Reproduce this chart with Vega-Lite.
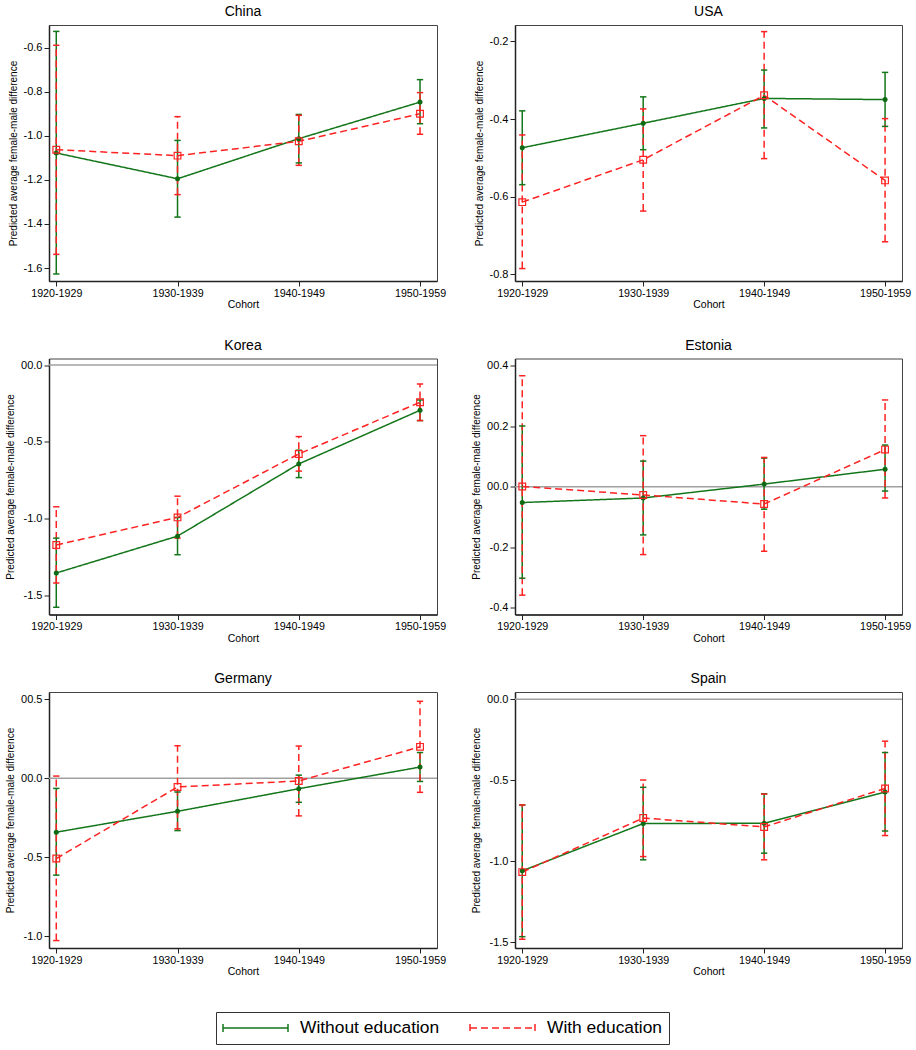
{
"$schema": "https://vega.github.io/schema/vega-lite/v6.json",
"background": "white",
"padding": {"left": 5, "top": 4, "right": 0, "bottom": 0},
"columns": 2,
"spacing": {"row": 26.5, "column": 24},
"data": {"values": [
{"c":"China","cohort":"1920-1929","s":"Without education","est":-1.078,"lo":-1.627,"hi":-0.526},
{"c":"China","cohort":"1930-1939","s":"Without education","est":-1.195,"lo":-1.369,"hi":-1.021},
{"c":"China","cohort":"1940-1949","s":"Without education","est":-1.013,"lo":-1.123,"hi":-0.903},
{"c":"China","cohort":"1950-1959","s":"Without education","est":-0.847,"lo":-0.945,"hi":-0.745},
{"c":"China","cohort":"1920-1929","s":"With education","est":-1.063,"lo":-1.538,"hi":-0.589},
{"c":"China","cohort":"1930-1939","s":"With education","est":-1.090,"lo":-1.267,"hi":-0.913},
{"c":"China","cohort":"1940-1949","s":"With education","est":-1.025,"lo":-1.134,"hi":-0.907},
{"c":"China","cohort":"1950-1959","s":"With education","est":-0.900,"lo":-0.993,"hi":-0.804},
{"c":"USA","cohort":"1920-1929","s":"Without education","est":-0.474,"lo":-0.569,"hi":-0.379},
{"c":"USA","cohort":"1930-1939","s":"Without education","est":-0.411,"lo":-0.479,"hi":-0.343},
{"c":"USA","cohort":"1940-1949","s":"Without education","est":-0.347,"lo":-0.423,"hi":-0.274},
{"c":"USA","cohort":"1950-1959","s":"Without education","est":-0.350,"lo":-0.419,"hi":-0.280},
{"c":"USA","cohort":"1920-1929","s":"With education","est":-0.614,"lo":-0.785,"hi":-0.441},
{"c":"USA","cohort":"1930-1939","s":"With education","est":-0.505,"lo":-0.637,"hi":-0.374},
{"c":"USA","cohort":"1940-1949","s":"With education","est":-0.339,"lo":-0.502,"hi":-0.175},
{"c":"USA","cohort":"1950-1959","s":"With education","est":-0.558,"lo":-0.716,"hi":-0.399},
{"c":"Korea","cohort":"1920-1929","s":"Without education","est":-1.353,"lo":-1.576,"hi":-1.126},
{"c":"Korea","cohort":"1930-1939","s":"Without education","est":-1.113,"lo":-1.234,"hi":-0.991},
{"c":"Korea","cohort":"1940-1949","s":"Without education","est":-0.643,"lo":-0.732,"hi":-0.554},
{"c":"Korea","cohort":"1950-1959","s":"Without education","est":-0.294,"lo":-0.361,"hi":-0.227},
{"c":"Korea","cohort":"1920-1929","s":"With education","est":-1.171,"lo":-1.418,"hi":-0.922},
{"c":"Korea","cohort":"1930-1939","s":"With education","est":-0.991,"lo":-1.126,"hi":-0.853},
{"c":"Korea","cohort":"1940-1949","s":"With education","est":-0.578,"lo":-0.690,"hi":-0.465},
{"c":"Korea","cohort":"1950-1959","s":"With education","est":-0.242,"lo":-0.361,"hi":-0.123},
{"c":"Estonia","cohort":"1920-1929","s":"Without education","est":-0.052,"lo":-0.302,"hi":0.201},
{"c":"Estonia","cohort":"1930-1939","s":"Without education","est":-0.037,"lo":-0.159,"hi":0.085},
{"c":"Estonia","cohort":"1940-1949","s":"Without education","est":0.009,"lo":-0.074,"hi":0.095},
{"c":"Estonia","cohort":"1950-1959","s":"Without education","est":0.058,"lo":-0.014,"hi":0.138},
{"c":"Estonia","cohort":"1920-1929","s":"With education","est":0.001,"lo":-0.358,"hi":0.367},
{"c":"Estonia","cohort":"1930-1939","s":"With education","est":-0.027,"lo":-0.224,"hi":0.169},
{"c":"Estonia","cohort":"1940-1949","s":"With education","est":-0.057,"lo":-0.213,"hi":0.097},
{"c":"Estonia","cohort":"1950-1959","s":"With education","est":0.123,"lo":-0.037,"hi":0.287},
{"c":"Germany","cohort":"1920-1929","s":"Without education","est":-0.341,"lo":-0.613,"hi":-0.064},
{"c":"Germany","cohort":"1930-1939","s":"Without education","est":-0.209,"lo":-0.331,"hi":-0.087},
{"c":"Germany","cohort":"1940-1949","s":"Without education","est":-0.066,"lo":-0.152,"hi":0.020},
{"c":"Germany","cohort":"1950-1959","s":"Without education","est":0.071,"lo":-0.020,"hi":0.163},
{"c":"Germany","cohort":"1920-1929","s":"With education","est":-0.508,"lo":-1.027,"hi":0.014},
{"c":"Germany","cohort":"1930-1939","s":"With education","est":-0.055,"lo":-0.320,"hi":0.206},
{"c":"Germany","cohort":"1940-1949","s":"With education","est":-0.017,"lo":-0.238,"hi":0.204},
{"c":"Germany","cohort":"1950-1959","s":"With education","est":0.199,"lo":-0.089,"hi":0.487},
{"c":"Spain","cohort":"1920-1929","s":"Without education","est":-1.060,"lo":-1.467,"hi":-0.653},
{"c":"Spain","cohort":"1930-1939","s":"Without education","est":-0.768,"lo":-0.992,"hi":-0.544},
{"c":"Spain","cohort":"1940-1949","s":"Without education","est":-0.766,"lo":-0.951,"hi":-0.584},
{"c":"Spain","cohort":"1950-1959","s":"Without education","est":-0.573,"lo":-0.814,"hi":-0.329},
{"c":"Spain","cohort":"1920-1929","s":"With education","est":-1.068,"lo":-1.483,"hi":-0.653},
{"c":"Spain","cohort":"1930-1939","s":"With education","est":-0.734,"lo":-0.972,"hi":-0.499},
{"c":"Spain","cohort":"1940-1949","s":"With education","est":-0.789,"lo":-0.992,"hi":-0.586},
{"c":"Spain","cohort":"1950-1959","s":"With education","est":-0.551,"lo":-0.842,"hi":-0.259}
]},
"concat": [
{
 "title": "China", "width": 388, "height": 256,
 "transform": [{"filter": "datum.c === 'China'"}],
 "encoding": {"x": {"field": "cohort", "type": "ordinal", "title": "Cohort", "scale": {"type": "point", "padding": 0.1, "align": 0.3}, "axis": {"labelAngle": 0}}},
 "layer": [
  {"mark": {"type": "rule", "strokeWidth": 1.5}, "encoding": {"y": {"field": "lo", "type": "quantitative", "title": "Predicted average female-male difference", "scale": {"domain": [-1.659, -0.497], "nice": false, "zero": false}, "axis": {"values": [-0.6, -0.8, -1.0, -1.2, -1.4, -1.6]}}, "y2": {"field": "hi"}, "color": {"field": "s", "type": "nominal", "title": null, "scale": {"domain": ["Without education", "With education"], "range": ["#13761a", "#ff2222"]}}, "strokeDash": {"field": "s", "type": "nominal", "title": null, "scale": {"domain": ["Without education", "With education"], "range": [[1, 0], [7, 4]]}}}},
  {"mark": {"type": "point", "shape": "stroke", "size": 40, "strokeWidth": 1.5, "filled": false, "opacity": 1}, "encoding": {"y": {"field": "lo", "type": "quantitative", "title": "Predicted average female-male difference"}, "color": {"field": "s", "type": "nominal", "title": null}}},
  {"mark": {"type": "point", "shape": "stroke", "size": 40, "strokeWidth": 1.5, "filled": false, "opacity": 1}, "encoding": {"y": {"field": "hi", "type": "quantitative", "title": "Predicted average female-male difference"}, "color": {"field": "s", "type": "nominal", "title": null}}},
  {"mark": {"type": "line", "strokeWidth": 1.5}, "encoding": {"y": {"field": "est", "type": "quantitative", "title": "Predicted average female-male difference"}, "color": {"field": "s", "type": "nominal", "title": null}, "strokeDash": {"field": "s", "type": "nominal", "title": null}}},
  {"transform": [{"filter": "datum.s === 'Without education'"}], "mark": {"type": "point", "shape": "circle", "filled": true, "size": 25, "color": "#0f6a14", "opacity": 1}, "encoding": {"y": {"field": "est", "type": "quantitative", "title": "Predicted average female-male difference"}}},
  {"transform": [{"filter": "datum.s === 'With education'"}], "mark": {"type": "point", "shape": "square", "filled": false, "size": 45, "strokeWidth": 1.2, "color": "#ff2222", "opacity": 1}, "encoding": {"y": {"field": "est", "type": "quantitative", "title": "Predicted average female-male difference"}}}
 ]
},
{
 "title": "USA", "width": 387, "height": 256,
 "transform": [{"filter": "datum.c === 'USA'"}],
 "encoding": {"x": {"field": "cohort", "type": "ordinal", "title": "Cohort", "scale": {"type": "point", "padding": 0.1, "align": 0.3}, "axis": {"labelAngle": 0}}},
 "layer": [
  {"mark": {"type": "rule", "strokeWidth": 1.5}, "encoding": {"y": {"field": "lo", "type": "quantitative", "title": "Predicted average female-male difference", "scale": {"domain": [-0.817, -0.158], "nice": false, "zero": false}, "axis": {"values": [-0.2, -0.4, -0.6, -0.8]}}, "y2": {"field": "hi"}, "color": {"field": "s", "type": "nominal", "title": null, "scale": {"domain": ["Without education", "With education"], "range": ["#13761a", "#ff2222"]}}, "strokeDash": {"field": "s", "type": "nominal", "title": null, "scale": {"domain": ["Without education", "With education"], "range": [[1, 0], [7, 4]]}}}},
  {"mark": {"type": "point", "shape": "stroke", "size": 40, "strokeWidth": 1.5, "filled": false, "opacity": 1}, "encoding": {"y": {"field": "lo", "type": "quantitative", "title": "Predicted average female-male difference"}, "color": {"field": "s", "type": "nominal", "title": null}}},
  {"mark": {"type": "point", "shape": "stroke", "size": 40, "strokeWidth": 1.5, "filled": false, "opacity": 1}, "encoding": {"y": {"field": "hi", "type": "quantitative", "title": "Predicted average female-male difference"}, "color": {"field": "s", "type": "nominal", "title": null}}},
  {"mark": {"type": "line", "strokeWidth": 1.5}, "encoding": {"y": {"field": "est", "type": "quantitative", "title": "Predicted average female-male difference"}, "color": {"field": "s", "type": "nominal", "title": null}, "strokeDash": {"field": "s", "type": "nominal", "title": null}}},
  {"transform": [{"filter": "datum.s === 'Without education'"}], "mark": {"type": "point", "shape": "circle", "filled": true, "size": 25, "color": "#0f6a14", "opacity": 1}, "encoding": {"y": {"field": "est", "type": "quantitative", "title": "Predicted average female-male difference"}}},
  {"transform": [{"filter": "datum.s === 'With education'"}], "mark": {"type": "point", "shape": "square", "filled": false, "size": 45, "strokeWidth": 1.2, "color": "#ff2222", "opacity": 1}, "encoding": {"y": {"field": "est", "type": "quantitative", "title": "Predicted average female-male difference"}}}
 ]
},
{
 "title": "Korea", "width": 388, "height": 256,
 "transform": [{"filter": "datum.c === 'Korea'"}],
 "encoding": {"x": {"field": "cohort", "type": "ordinal", "title": "Cohort", "scale": {"type": "point", "padding": 0.1, "align": 0.3}, "axis": {"labelAngle": 0}}},
 "layer": [
  {"data": {"values": [{"c": "Korea", "ref": 0}]}, "mark": {"type": "rule", "color": "#a0a0a0", "strokeWidth": 1.5}, "encoding": {"x": {"value": 0}, "x2": {"value": "width"}, "y": {"field": "ref", "type": "quantitative", "title": "Predicted average female-male difference"}}},
  {"mark": {"type": "rule", "strokeWidth": 1.5}, "encoding": {"y": {"field": "lo", "type": "quantitative", "title": "Predicted average female-male difference", "scale": {"domain": [-1.623, 0.043], "nice": false, "zero": false}, "axis": {"values": [0, -0.5, -1.0, -1.5]}}, "y2": {"field": "hi"}, "color": {"field": "s", "type": "nominal", "title": null, "scale": {"domain": ["Without education", "With education"], "range": ["#13761a", "#ff2222"]}}, "strokeDash": {"field": "s", "type": "nominal", "title": null, "scale": {"domain": ["Without education", "With education"], "range": [[1, 0], [7, 4]]}}}},
  {"mark": {"type": "point", "shape": "stroke", "size": 40, "strokeWidth": 1.5, "filled": false, "opacity": 1}, "encoding": {"y": {"field": "lo", "type": "quantitative", "title": "Predicted average female-male difference"}, "color": {"field": "s", "type": "nominal", "title": null}}},
  {"mark": {"type": "point", "shape": "stroke", "size": 40, "strokeWidth": 1.5, "filled": false, "opacity": 1}, "encoding": {"y": {"field": "hi", "type": "quantitative", "title": "Predicted average female-male difference"}, "color": {"field": "s", "type": "nominal", "title": null}}},
  {"mark": {"type": "line", "strokeWidth": 1.5}, "encoding": {"y": {"field": "est", "type": "quantitative", "title": "Predicted average female-male difference"}, "color": {"field": "s", "type": "nominal", "title": null}, "strokeDash": {"field": "s", "type": "nominal", "title": null}}},
  {"transform": [{"filter": "datum.s === 'Without education'"}], "mark": {"type": "point", "shape": "circle", "filled": true, "size": 25, "color": "#0f6a14", "opacity": 1}, "encoding": {"y": {"field": "est", "type": "quantitative", "title": "Predicted average female-male difference"}}},
  {"transform": [{"filter": "datum.s === 'With education'"}], "mark": {"type": "point", "shape": "square", "filled": false, "size": 45, "strokeWidth": 1.2, "color": "#ff2222", "opacity": 1}, "encoding": {"y": {"field": "est", "type": "quantitative", "title": "Predicted average female-male difference"}}}
 ]
},
{
 "title": "Estonia", "width": 387, "height": 256,
 "transform": [{"filter": "datum.c === 'Estonia'"}],
 "encoding": {"x": {"field": "cohort", "type": "ordinal", "title": "Cohort", "scale": {"type": "point", "padding": 0.1, "align": 0.3}, "axis": {"labelAngle": 0}}},
 "layer": [
  {"data": {"values": [{"c": "Estonia", "ref": 0}]}, "mark": {"type": "rule", "color": "#a0a0a0", "strokeWidth": 1.5}, "encoding": {"x": {"value": 0}, "x2": {"value": "width"}, "y": {"field": "ref", "type": "quantitative", "title": "Predicted average female-male difference"}}},
  {"mark": {"type": "rule", "strokeWidth": 1.5}, "encoding": {"y": {"field": "lo", "type": "quantitative", "title": "Predicted average female-male difference", "scale": {"domain": [-0.422, 0.424], "nice": false, "zero": false}, "axis": {"values": [0.4, 0.2, 0, -0.2, -0.4]}}, "y2": {"field": "hi"}, "color": {"field": "s", "type": "nominal", "title": null, "scale": {"domain": ["Without education", "With education"], "range": ["#13761a", "#ff2222"]}}, "strokeDash": {"field": "s", "type": "nominal", "title": null, "scale": {"domain": ["Without education", "With education"], "range": [[1, 0], [7, 4]]}}}},
  {"mark": {"type": "point", "shape": "stroke", "size": 40, "strokeWidth": 1.5, "filled": false, "opacity": 1}, "encoding": {"y": {"field": "lo", "type": "quantitative", "title": "Predicted average female-male difference"}, "color": {"field": "s", "type": "nominal", "title": null}}},
  {"mark": {"type": "point", "shape": "stroke", "size": 40, "strokeWidth": 1.5, "filled": false, "opacity": 1}, "encoding": {"y": {"field": "hi", "type": "quantitative", "title": "Predicted average female-male difference"}, "color": {"field": "s", "type": "nominal", "title": null}}},
  {"mark": {"type": "line", "strokeWidth": 1.5}, "encoding": {"y": {"field": "est", "type": "quantitative", "title": "Predicted average female-male difference"}, "color": {"field": "s", "type": "nominal", "title": null}, "strokeDash": {"field": "s", "type": "nominal", "title": null}}},
  {"transform": [{"filter": "datum.s === 'Without education'"}], "mark": {"type": "point", "shape": "circle", "filled": true, "size": 25, "color": "#0f6a14", "opacity": 1}, "encoding": {"y": {"field": "est", "type": "quantitative", "title": "Predicted average female-male difference"}}},
  {"transform": [{"filter": "datum.s === 'With education'"}], "mark": {"type": "point", "shape": "square", "filled": false, "size": 45, "strokeWidth": 1.2, "color": "#ff2222", "opacity": 1}, "encoding": {"y": {"field": "est", "type": "quantitative", "title": "Predicted average female-male difference"}}}
 ]
},
{
 "title": "Germany", "width": 388, "height": 256,
 "transform": [{"filter": "datum.c === 'Germany'"}],
 "encoding": {"x": {"field": "cohort", "type": "ordinal", "title": "Cohort", "scale": {"type": "point", "padding": 0.1, "align": 0.3}, "axis": {"labelAngle": 0}}},
 "layer": [
  {"data": {"values": [{"c": "Germany", "ref": 0}]}, "mark": {"type": "rule", "color": "#a0a0a0", "strokeWidth": 1.5}, "encoding": {"x": {"value": 0}, "x2": {"value": "width"}, "y": {"field": "ref", "type": "quantitative", "title": "Predicted average female-male difference"}}},
  {"mark": {"type": "rule", "strokeWidth": 1.5}, "encoding": {"y": {"field": "lo", "type": "quantitative", "title": "Predicted average female-male difference", "scale": {"domain": [-1.074, 0.546], "nice": false, "zero": false}, "axis": {"values": [0.5, 0, -0.5, -1.0]}}, "y2": {"field": "hi"}, "color": {"field": "s", "type": "nominal", "title": null, "scale": {"domain": ["Without education", "With education"], "range": ["#13761a", "#ff2222"]}}, "strokeDash": {"field": "s", "type": "nominal", "title": null, "scale": {"domain": ["Without education", "With education"], "range": [[1, 0], [7, 4]]}}}},
  {"mark": {"type": "point", "shape": "stroke", "size": 40, "strokeWidth": 1.5, "filled": false, "opacity": 1}, "encoding": {"y": {"field": "lo", "type": "quantitative", "title": "Predicted average female-male difference"}, "color": {"field": "s", "type": "nominal", "title": null}}},
  {"mark": {"type": "point", "shape": "stroke", "size": 40, "strokeWidth": 1.5, "filled": false, "opacity": 1}, "encoding": {"y": {"field": "hi", "type": "quantitative", "title": "Predicted average female-male difference"}, "color": {"field": "s", "type": "nominal", "title": null}}},
  {"mark": {"type": "line", "strokeWidth": 1.5}, "encoding": {"y": {"field": "est", "type": "quantitative", "title": "Predicted average female-male difference"}, "color": {"field": "s", "type": "nominal", "title": null}, "strokeDash": {"field": "s", "type": "nominal", "title": null}}},
  {"transform": [{"filter": "datum.s === 'Without education'"}], "mark": {"type": "point", "shape": "circle", "filled": true, "size": 25, "color": "#0f6a14", "opacity": 1}, "encoding": {"y": {"field": "est", "type": "quantitative", "title": "Predicted average female-male difference"}}},
  {"transform": [{"filter": "datum.s === 'With education'"}], "mark": {"type": "point", "shape": "square", "filled": false, "size": 45, "strokeWidth": 1.2, "color": "#ff2222", "opacity": 1}, "encoding": {"y": {"field": "est", "type": "quantitative", "title": "Predicted average female-male difference"}}}
 ]
},
{
 "title": "Spain", "width": 387, "height": 256,
 "transform": [{"filter": "datum.c === 'Spain'"}],
 "encoding": {"x": {"field": "cohort", "type": "ordinal", "title": "Cohort", "scale": {"type": "point", "padding": 0.1, "align": 0.3}, "axis": {"labelAngle": 0}}},
 "layer": [
  {"data": {"values": [{"c": "Spain", "ref": 0}]}, "mark": {"type": "rule", "color": "#a0a0a0", "strokeWidth": 1.5}, "encoding": {"x": {"value": 0}, "x2": {"value": "width"}, "y": {"field": "ref", "type": "quantitative", "title": "Predicted average female-male difference"}}},
  {"mark": {"type": "rule", "strokeWidth": 1.5}, "encoding": {"y": {"field": "lo", "type": "quantitative", "title": "Predicted average female-male difference", "scale": {"domain": [-1.537, 0.045], "nice": false, "zero": false}, "axis": {"values": [0, -0.5, -1.0, -1.5]}}, "y2": {"field": "hi"}, "color": {"field": "s", "type": "nominal", "title": null, "scale": {"domain": ["Without education", "With education"], "range": ["#13761a", "#ff2222"]}}, "strokeDash": {"field": "s", "type": "nominal", "title": null, "scale": {"domain": ["Without education", "With education"], "range": [[1, 0], [7, 4]]}}}},
  {"mark": {"type": "point", "shape": "stroke", "size": 40, "strokeWidth": 1.5, "filled": false, "opacity": 1}, "encoding": {"y": {"field": "lo", "type": "quantitative", "title": "Predicted average female-male difference"}, "color": {"field": "s", "type": "nominal", "title": null}}},
  {"mark": {"type": "point", "shape": "stroke", "size": 40, "strokeWidth": 1.5, "filled": false, "opacity": 1}, "encoding": {"y": {"field": "hi", "type": "quantitative", "title": "Predicted average female-male difference"}, "color": {"field": "s", "type": "nominal", "title": null}}},
  {"mark": {"type": "line", "strokeWidth": 1.5}, "encoding": {"y": {"field": "est", "type": "quantitative", "title": "Predicted average female-male difference"}, "color": {"field": "s", "type": "nominal", "title": null}, "strokeDash": {"field": "s", "type": "nominal", "title": null}}},
  {"transform": [{"filter": "datum.s === 'Without education'"}], "mark": {"type": "point", "shape": "circle", "filled": true, "size": 25, "color": "#0f6a14", "opacity": 1}, "encoding": {"y": {"field": "est", "type": "quantitative", "title": "Predicted average female-male difference"}}},
  {"transform": [{"filter": "datum.s === 'With education'"}], "mark": {"type": "point", "shape": "square", "filled": false, "size": 45, "strokeWidth": 1.2, "color": "#ff2222", "opacity": 1}, "encoding": {"y": {"field": "est", "type": "quantitative", "title": "Predicted average female-male difference"}}}
 ]
}
],
"config": {
 "font": "Liberation Sans",
 "view": {"stroke": "#444444", "strokeWidth": 1},
 "title": {"font": "Liberation Sans", "fontSize": 14, "fontWeight": "normal", "color": "#000000", "offset": 6, "anchor": "middle"},
 "axis": {"labelFont": "Liberation Sans", "titleFont": "Liberation Sans", "labelColor": "#000000", "titleColor": "#000000", "titleFontWeight": "normal", "grid": false, "tickColor": "#222222", "domainColor": "#222222", "domainWidth": 1.5, "tickWidth": 1, "tickSize": 5, "labelPadding": 2},
 "axisY": {"labelFontSize": 11, "titleFontSize": 10, "titlePadding": 5, "labelExpr": "datum.value < 0 ? '-' + format(-datum.value, '.1f') : '0' + format(datum.value, '.1f')"},
 "axisX": {"labelFontSize": 10.7, "titleFontSize": 10.5, "titlePadding": 2},
 "legend": {"orient": "none", "legendX": 167, "legendY": 987, "direction": "horizontal", "symbolType": "M-1,0H1M-1,-0.12V0.12M1,-0.12V0.12", "symbolSize": 4225, "symbolStrokeWidth": 1.5, "clipHeight": 20, "labelFont": "Liberation Sans", "labelFontSize": 17.4, "labelColor": "#000000", "labelOffset": 11, "columnPadding": 29, "strokeColor": "#333333", "padding": 6, "labelLimit": 300}
}
}
